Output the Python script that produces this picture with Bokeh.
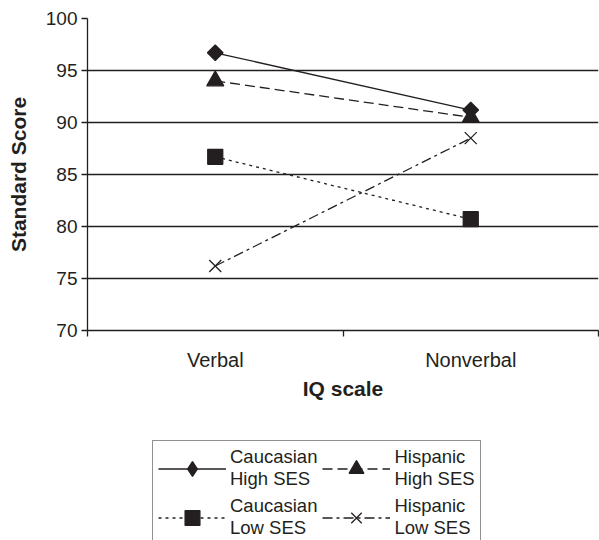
import math
from bokeh.plotting import figure
from bokeh.layouts import column
from bokeh.models import FixedTicker, Legend, LegendItem, Range1d
from bokeh.embed import file_html
from bokeh.resources import INLINE

categories = ["Verbal", "Nonverbal"]
cauc_high = [96.7, 91.2]
hisp_high = [94.0, 90.5]
cauc_low = [86.7, 80.7]
hisp_low = [76.2, 88.5]
y_ticks = [70, 75, 80, 85, 90, 95, 100]
labels = ["Caucasian\nHigh SES", "Hispanic\nHigh SES", "Caucasian\nLow SES", "Hispanic\nLow SES"]

INK = "#231f20"
FONT = "Liberation Sans"

x = [i + 0.5 for i in range(len(categories))]
bounds = [float(i) for i in range(len(categories) + 1)]

p = figure(width=599, height=428, output_backend="svg", toolbar_location=None,
           x_range=Range1d(0, len(categories)), y_range=Range1d(70, 100))
p.min_border_left = 87
p.min_border_right = 1
p.min_border_top = 18
p.min_border_bottom = 98
p.outline_line_color = None

p.xgrid.grid_line_color = None
p.ygrid.grid_line_color = INK
p.ygrid.grid_line_width = 1.3
p.yaxis.ticker = FixedTicker(ticks=y_ticks)
p.xaxis.ticker = FixedTicker(ticks=x, minor_ticks=bounds)
p.xaxis.major_label_overrides = {v: c for v, c in zip(x, categories)}

for ax in (p.xaxis[0], p.yaxis[0]):
    ax.axis_line_color = INK
    ax.axis_line_width = 1.3
    ax.major_label_text_font = FONT
    ax.major_label_text_color = INK
    ax.axis_label_text_font = FONT
    ax.axis_label_text_font_size = "21px"
    ax.axis_label_text_font_style = "bold"
    ax.axis_label_text_color = INK

p.yaxis.major_label_text_font_size = "19px"
p.xaxis.major_label_text_font_size = "20px"

p.yaxis.axis_label = "Standard Score"
p.yaxis.major_tick_out = 6
p.yaxis.major_tick_in = 0
p.yaxis.major_tick_line_color = INK
p.yaxis.major_tick_line_width = 1.3
p.yaxis.minor_tick_line_color = None
p.yaxis.major_label_standoff = 4
p.yaxis.axis_label_standoff = 13

p.xaxis.axis_label = "IQ scale"
p.xaxis.major_tick_line_color = None
p.xaxis.major_tick_out = 0
p.xaxis.major_tick_in = 0
p.xaxis.minor_tick_out = 6
p.xaxis.minor_tick_in = 0
p.xaxis.minor_tick_line_color = INK
p.xaxis.minor_tick_line_width = 1.3
p.xaxis.major_label_standoff = 12
p.xaxis.axis_label_standoff = 3

styles = [
    dict(line_dash="solid", marker="square", legend_marker="diamond", size=11, angle=math.pi / 4, fill=True),
    dict(line_dash="10 5", marker="triangle", legend_marker="triangle", size=17, angle=0, fill=True),
    dict(line_dash="3 4", marker="square", legend_marker="square", size=15, angle=0, fill=True),
    dict(line_dash="10 4 3 4", marker="x", legend_marker="x", size=17, angle=0, fill=False),
]
values = [cauc_high, hisp_high, cauc_low, hisp_low]

for ys, st in zip(values, styles):
    p.line(x, ys, line_color=INK, line_width=1.3, line_dash=st["line_dash"])
    p.scatter(x, ys, marker=st["marker"], size=st["size"], angle=st["angle"],
              line_color=INK, fill_color=INK if st["fill"] else None, line_width=1.3)

# legend panel below the chart (its frame is aligned with the chart's frame)
lg = figure(width=599, height=112, output_backend="svg", toolbar_location=None,
            x_range=Range1d(0, 1), y_range=Range1d(0, 1),
            x_axis_type=None, y_axis_type=None, min_border=0)
lg.outline_line_color = None
lg.grid.visible = False

nan = float("nan")
items = []
for lab, st in zip(labels, styles):
    ln = lg.line([nan, nan], [nan, nan], line_color=INK, line_width=1.3, line_dash=st["line_dash"])
    sc = lg.scatter([nan], [nan], marker=st["legend_marker"], size=st["size"],
                    line_color=INK, fill_color=INK if st["fill"] else None, line_width=1.3)
    items.append(LegendItem(label=lab, renderers=[ln, sc]))

ordered = [items[0], items[2], items[1], items[3]]
legend = Legend(items=ordered, ncols=2, location=(65, -5))
legend.label_text_font = FONT
legend.label_text_font_size = "18.5px"
legend.label_text_color = INK
legend.glyph_width = 68
legend.glyph_height = 37
legend.label_standoff = 4
legend.spacing = 5
legend.padding = 5
legend.border_line_color = INK
legend.border_line_width = 1.2
legend.background_fill_alpha = 1
lg.add_layout(legend, "center")

open("out.html", "w").write(file_html(column(p, lg), INLINE))
